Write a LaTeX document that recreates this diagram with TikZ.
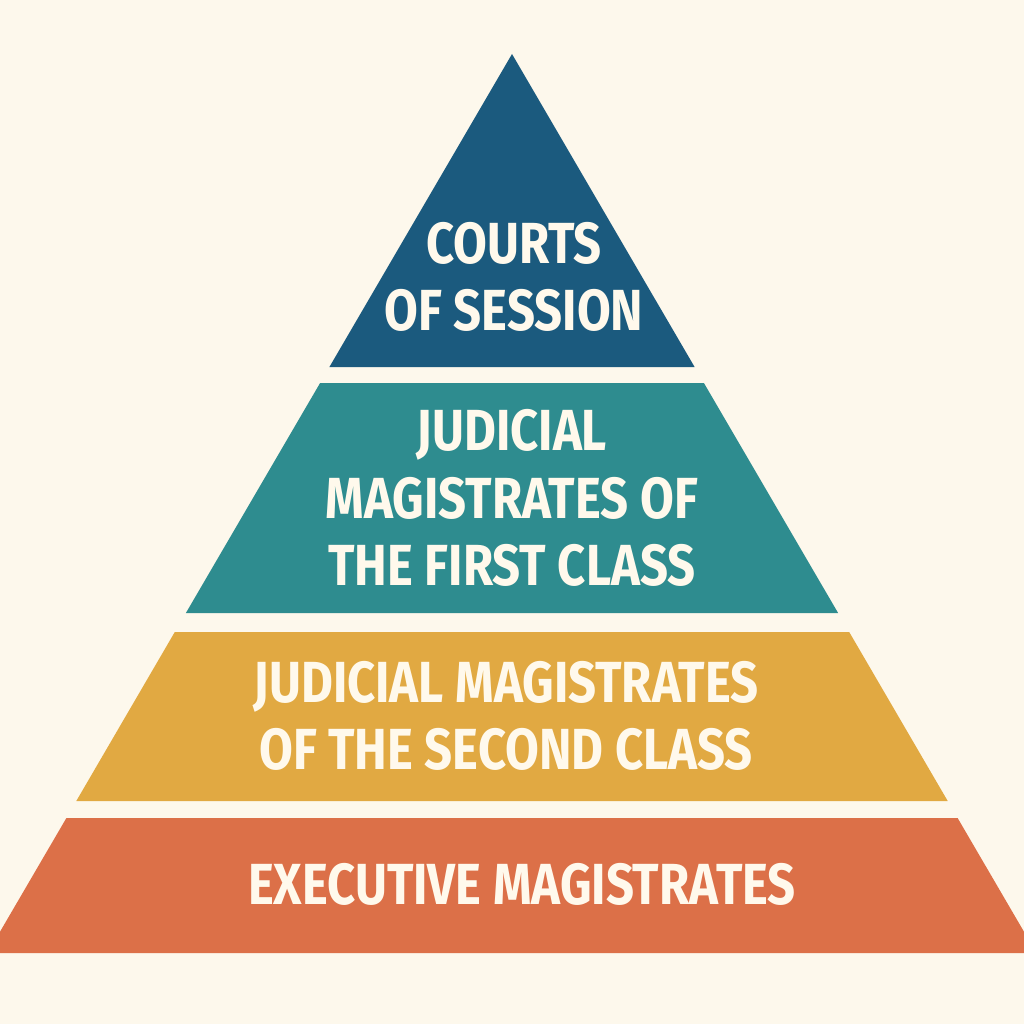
\documentclass[tikz,border=0pt]{standalone}
\usepackage{fontspec}
\setmainfont{Fira Sans}[FakeStretch=0.845]
\definecolor{PaperCream}{RGB}{253,248,236}
\definecolor{TextCream}{RGB}{255,249,236}
\definecolor{SessionBlue}{RGB}{27,90,126}
\definecolor{FirstTeal}{RGB}{46,140,143}
\definecolor{SecondGold}{RGB}{225,169,66}
\definecolor{ExecOrange}{RGB}{220,112,72}
\usetikzlibrary{positioning,calc}

\begin{document}
\begin{tikzpicture}[x=0.02cm,y=-0.02cm,
    layertext/.style={text=TextCream,align=center,inner sep=0pt,
        font=\bfseries\fontsize{33}{38.3}\selectfont}]
        % canvas
        \fill[PaperCream] (0,0) rectangle (1024,1024);
        \useasboundingbox (0,0) rectangle (1024,1024);
        \begin{scope}
            \clip (0,0) rectangle (1024,1024);
            % the four layers, side slope 0.583
            \fill[SessionBlue] (512,54) -- (694.6,367) -- (329.4,367) -- cycle;
            \fill[FirstTeal]   (320.1,383) -- (703.9,383) -- (838.1,613) -- (185.9,613) -- cycle;
            \fill[SecondGold]  (174.8,632) -- (849.2,632) -- (947.7,801) -- (76.3,801) -- cycle;
            \fill[ExecOrange]  (66.4,818) -- (957.6,818) -- (1036.4,953) -- (-12.4,953) -- cycle;
        \end{scope}
        % labels
        \node[layertext] (courts)      at (514,277) {COURTS\\OF SESSION};
        \node[layertext] (firstclass)  at (512,498) {JUDICIAL\\MAGISTRATES OF\\THE FIRST CLASS};
        \node[layertext] (secondclass) at (506,716) {JUDICIAL MAGISTRATES\\OF THE SECOND CLASS};
        \node[layertext] (executive)   at (522,884) {EXECUTIVE MAGISTRATES};
    \end{tikzpicture}
\end{document}
